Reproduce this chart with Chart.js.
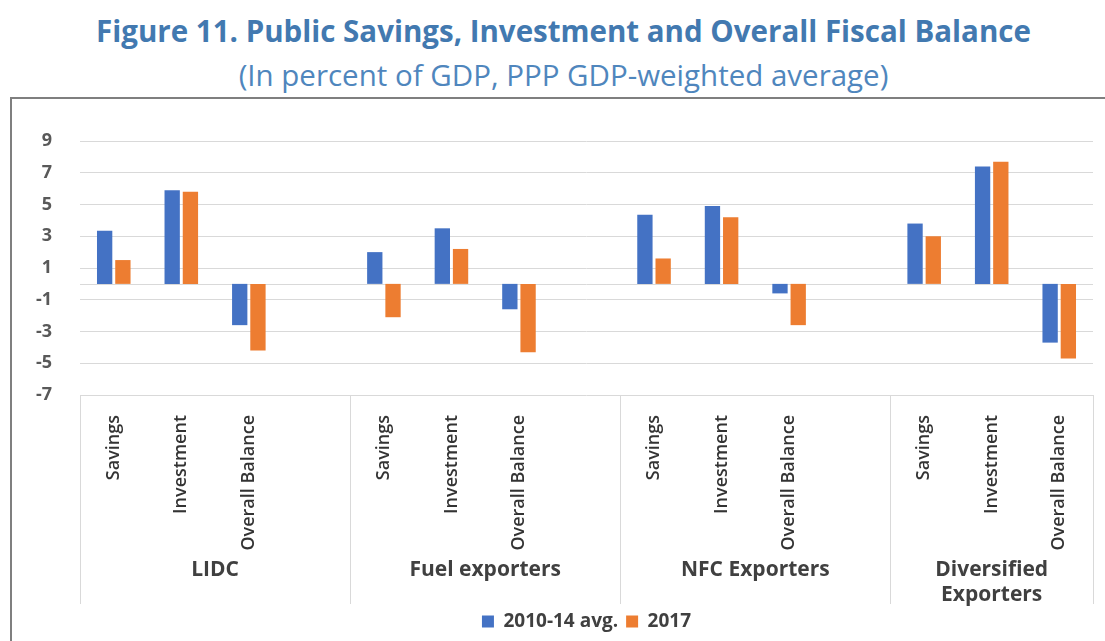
<!DOCTYPE html>
<html>
<head>
<meta charset="utf-8">
<script src="https://cdn.jsdelivr.net/npm/chart.js@4"></script>
<style>
    html, body { margin: 0; padding: 0; background: #fff; overflow: hidden; }
    body { width: 1105px; height: 641px; position: relative; font-family: 'Open Sans', sans-serif; }
    .title { position: absolute; left: 22px; right: 0; top: 11px; text-align: center; color: #4279b0; font-weight: bold; font-size: 29.5px; line-height: 40px; }
    .subtitle { position: absolute; left: 22px; right: 0; top: 55px; text-align: center; color: #4f86bd; font-size: 29.5px; line-height: 40px; }
    .frame { position: absolute; left: 10px; top: 97px; width: 1200px; height: 700px; border: 2px solid #7f7f7f; }
    .chart-wrap { position: absolute; left: 0; top: 100px; width: 1105px; height: 541px; }
</style>
</head>
<body>
<div class="title">Figure 11. Public Savings, Investment and Overall Fiscal Balance</div>
<div class="subtitle">(In percent of GDP, PPP GDP-weighted average)</div>
<div class="frame"></div>
<div class="chart-wrap"><canvas id="fiscalChart"></canvas></div>
<script>
// ==========================================================================
// DATA
// ==========================================================================
const categories = [
    'Savings', 'Investment', 'Overall Balance', '',
    'Savings', 'Investment', 'Overall Balance', '',
    'Savings', 'Investment', 'Overall Balance', '',
    'Savings', 'Investment', 'Overall Balance'
];
const groups = [['LIDC'], ['Fuel exporters'], ['NFC Exporters'], ['Diversified', 'Exporters']];
const avg2010_14 = [3.35, 5.9, -2.6, null, 2.0, 3.5, -1.6, null, 4.35, 4.9, -0.6, null, 3.8, 7.4, -3.7];
const val2017 = [1.5, 5.8, -4.2, null, -2.1, 2.2, -4.3, null, 1.6, 4.2, -2.6, null, 3.0, 7.7, -4.7];
const yTicks = [-7, -5, -3, -1, 1, 3, 5, 7, 9];

const GRID = '#d9d9d9';

// separators, zero line and group names under the category axis
const groupAxisPlugin = {
    id: 'groupAxis',
    beforeDatasetsDraw(chart) {
        const { ctx, chartArea, scales } = chart;
        const y0 = scales.y.getPixelForValue(0);
        ctx.save();
        ctx.strokeStyle = GRID;
        ctx.lineWidth = 1;
        ctx.beginPath();
        ctx.moveTo(chartArea.left, Math.round(y0) + 0.5);
        ctx.lineTo(chartArea.right, Math.round(y0) + 0.5);
        ctx.stroke();
        ctx.restore();
    },
    afterDraw(chart) {
        const { ctx, chartArea, scales } = chart;
        const x = scales.x;
        const slot = (chartArea.right - chartArea.left) / categories.length;
        const top = chartArea.bottom;
        const bottom = x.bottom;
        ctx.save();
        ctx.strokeStyle = GRID;
        ctx.lineWidth = 1;
        const edges = [0, 4, 8, 12, 15];
        edges.forEach(i => {
            const px = Math.round(x.getPixelForValue(0) - slot / 2 + i * slot) + 0.5;
            ctx.beginPath();
            ctx.moveTo(px, top);
            ctx.lineTo(px, bottom);
            ctx.stroke();
        });
        ctx.fillStyle = '#404040';
        ctx.font = 'bold 21px "Open Sans"';
        ctx.textAlign = 'center';
        ctx.textBaseline = 'middle';
        groups.forEach((lines, g) => {
            const start = edges[g], end = edges[g + 1];
            const cx = x.getPixelForValue(0) - slot / 2 + (start + end) / 2 * slot;
            lines.forEach((line, k) => {
                ctx.fillText(line, cx, top + 175 + k * 25);
            });
        });
        ctx.restore();
    }
};

const ctx = document.getElementById('fiscalChart').getContext('2d');
new Chart(ctx, {
    type: 'bar',
    data: {
        labels: categories,
        datasets: [
            { label: '2010-14 avg.', data: avg2010_14, backgroundColor: '#4472c4', categoryPercentage: 0.54, barPercentage: 0.84 },
            { label: '2017', data: val2017, backgroundColor: '#ed7d31', categoryPercentage: 0.54, barPercentage: 0.84 }
        ]
    },
    options: {
        responsive: true,
        maintainAspectRatio: false,
        animation: false,
        layout: { padding: { top: 41, right: 12, left: 0, bottom: 0 } },
        plugins: {
            legend: {
                position: 'bottom',
                fullSize: false,
                labels: {
                    color: '#404040',
                    font: { family: 'Open Sans', size: 19, weight: 'bold' },
                    boxWidth: 12,
                    boxHeight: 12,
                    padding: 8
                }
            },
            tooltip: { enabled: false }
        },
        scales: {
            x: {
                grid: { display: false },
                border: { display: false },
                ticks: {
                    autoSkip: false,
                    minRotation: 90,
                    maxRotation: 90,
                    padding: 12,
                    color: '#333333',
                    font: { family: 'Open Sans', size: 18, weight: 600 }
                },
                afterFit(scale) { scale.height = 209; }
            },
            y: {
                min: -7,
                max: 9,
                afterBuildTicks(scale) { scale.ticks = yTicks.map(v => ({ value: v })); },
                grid: { color: GRID, drawTicks: false },
                border: { display: false },
                ticks: {
                    padding: 28,
                    color: '#595959',
                    font: { family: 'Open Sans', size: 18, weight: 'bold' }
                },
                afterFit(scale) { scale.width = 80; }
            }
        }
    },
    plugins: [groupAxisPlugin]
});
</script>
</body>
</html>
